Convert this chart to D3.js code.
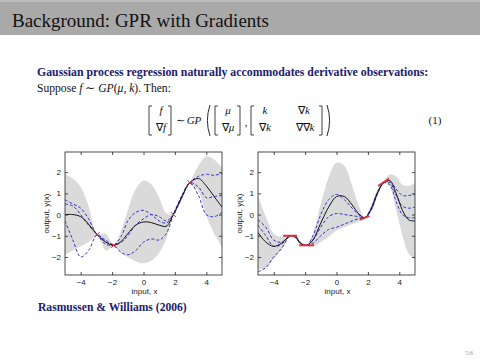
<!DOCTYPE html>
<html><head><meta charset="utf-8">
<script src="https://cdn.jsdelivr.net/npm/d3@7"></script>
<style>html,body{margin:0;padding:0;background:#fff;}svg{display:block;}</style>
</head><body>
<svg id="c" width="480" height="360"></svg>
<script>
// ---------- data ----------
const title = "Background: GPR with Gradients";
const line1 = "Gaussian process regression naturally accommodates derivative observations:";
const citation = "Rasmussen & Williams (2006)";
const pageNo = "5/6";
const xTicks = [-4, -2, 0, 2, 4];
const yTicks = [-2, -1, 0, 1, 2];
const xLabel = "input, x";
const yLabel = "output, y(x)";

// left panel: function observations only
const leftX    = [-5, -4.5, -4, -3.5, -2.95, -2.4, -1.9, -1.4, -1, -0.5, 0, 0.5, 1, 1.45, 1.9, 2.45, 2.95, 3.5, 4, 4.5, 5];
const leftMean = [0.0, 0.0, -0.1, -0.45, -0.95, -1.3, -1.45, -1.25, -0.9, -0.5, -0.35, -0.38, -0.5, -0.55, 0.0, 0.85, 1.5, 1.7, 1.35, 0.85, 0.35];
const leftBand = [1.9, 1.7, 1.4, 0.85, 0.04, 0.4, 0.04, 0.55, 1.1, 1.7, 1.95, 1.8, 1.3, 0.6, 0.04, 0.15, 0.04, 0.6, 1.4, 1.75, 1.85];
const leftS1   = [0.7, 0.5, 0.3, -0.2, -0.95, -1.2, -1.45, -1.0, -0.3, 0.1, 0.2, 0.0, -0.3, -0.4, 0.0, 0.85, 1.5, 1.8, 1.9, 1.85, 1.95];
const leftS2   = [0.5, 0.4, 0.0, -0.5, -0.95, -1.4, -1.45, -1.3, -1.0, -0.5, -0.2, 0.0, -0.1, -0.3, 0.0, 0.8, 1.5, 1.3, 0.8, 0.85, 0.9];
const leftS3   = [-0.3, -1.2, -2.0, -1.7, -0.95, -1.3, -1.45, -1.8, -1.9, -1.7, -1.3, -1.15, -1.2, -0.9, 0.0, 0.9, 1.5, 0.9, 0.0, -0.1, 0.1];
const leftObsX = [-2.95, -1.9, 1.9, 2.95];
const leftObsY = [-0.95, -1.45, 0.0, 1.5];

// right panel: function + derivative observations
const rightX    = [-5, -4.5, -4, -3.5, -2.95, -2.6, -2.3, -1.9, -1.5, -1, -0.5, 0, 0.5, 1, 1.4, 1.8, 2.2, 2.6, 3, 3.4, 3.8, 4.2, 4.6, 5];
const rightMean = [-0.85, -1.3, -1.5, -1.35, -1.0, -1.05, -1.35, -1.45, -1.2, -0.4, 0.35, 0.85, 0.85, 0.45, 0.05, -0.15, 0.25, 1.0, 1.5, 1.6, 1.0, 0.2, -0.25, -0.3];
const rightBand = [1.75, 1.2, 0.6, 0.3, 0.03, 0.1, 0.12, 0.03, 0.3, 0.9, 1.4, 1.6, 1.45, 0.9, 0.4, 0.03, 0.15, 0.15, 0.03, 0.3, 0.8, 1.2, 1.6, 1.8];
const rightS1   = [-0.25, -0.6, -1.2, -1.3, -1.0, -1.05, -1.35, -1.45, -1.0, 0.0, 0.7, 0.95, 0.7, 0.3, 0.0, -0.15, 0.25, 1.0, 1.5, 1.55, 1.2, 0.9, 0.9, 0.95];
const rightS2   = [-0.5, -1.0, -1.5, -1.4, -1.0, -1.1, -1.35, -1.45, -1.2, -0.6, -0.1, 0.05, 0.0, -0.05, -0.1, -0.15, 0.2, 0.95, 1.5, 1.5, 0.9, 0.4, 0.3, 0.35];
const rightS3   = [-2.7, -2.5, -2.0, -1.6, -1.0, -1.05, -1.35, -1.45, -1.35, -1.0, -0.7, -0.6, -0.45, -0.3, -0.2, -0.15, 0.3, 1.05, 1.5, 1.4, 0.6, 0.0, -0.15, -0.15];
const rightObsX     = [-2.95, -1.9, 1.8, 3.0];
const rightObsY     = [-1.0, -1.45, -0.15, 1.52];
const rightObsSlope = [0, 0, 0.3, 0.5];
const rightObsHalf  = [0.45, 0.47, 0.3, 0.35];

// ---------- drawing ----------
const svg = d3.select("#c");
const serif = "'Liberation Serif','Times New Roman',serif";
const sans = "'Liberation Sans',Arial,Helvetica,sans-serif";
const navy = "#20206c";

// title bar
svg.append("rect").attr("x", 0).attr("y", 0).attr("width", 480).attr("height", 35).attr("fill", "#a9a9a9");
svg.append("rect").attr("x", 0).attr("y", 0).attr("width", 480).attr("height", 2).attr("fill", "#bdbdbd");
svg.append("text").attr("x", 12).attr("y", 27).attr("font-family", serif).attr("font-size", 19)
  .attr("fill", "#111").text(title);

// text lines
svg.append("text").attr("x", 37).attr("y", 76).attr("font-family", serif).attr("font-size", 11.8)
  .attr("font-weight", "bold").attr("fill", navy).text(line1);
const t2 = svg.append("text").attr("x", 37).attr("y", 91.5).attr("font-family", serif).attr("font-size", 11.6).attr("fill", "#111");
t2.append("tspan").text("Suppose ");
t2.append("tspan").attr("font-style", "italic").text("f");
t2.append("tspan").text(" \u223C ");
t2.append("tspan").attr("font-style", "italic").text("GP");
t2.append("tspan").text("(");
t2.append("tspan").attr("font-style", "italic").text("\u03BC");
t2.append("tspan").text(", ");
t2.append("tspan").attr("font-style", "italic").text("k");
t2.append("tspan").text("). Then:");

// equation
const eq = svg.append("g").attr("font-family", serif).attr("font-size", 11).attr("fill", "#111");
function bracket(x, dir) {
  const t = 106, b = 135, w = 3 * dir;
  eq.append("path").attr("d", `M${x + w},${t} H${x} V${b} H${x + w}`).attr("fill", "none").attr("stroke", "#111").attr("stroke-width", 0.8);
}
function paren(x, dir) {
  const t = 105, b = 136, w = 4 * dir;
  eq.append("path").attr("d", `M${x + w},${t} Q${x - w * 0.3},${(t + b) / 2} ${x + w},${b}`).attr("fill", "none").attr("stroke", "#111").attr("stroke-width", 0.9);
}
// s: normal prefix (nablas), v: italic variable
function et(x, y, pre, v) {
  const t = eq.append("text").attr("x", x).attr("y", y).attr("text-anchor", "middle");
  if (pre) t.append("tspan").text(pre);
  if (v) t.append("tspan").attr("font-style", "italic").text(v);
}
const N = "\u2207";
bracket(149, 1); et(161, 114, "", "f"); et(161, 131, N, "f"); bracket(171, -1);
et(180, 124, "\u223C", ""); et(194, 124, "", "GP");
paren(206, 1);
bracket(215, 1); et(228, 114, "", "\u03BC"); et(228, 131, N, "\u03BC"); bracket(240, -1);
et(246, 126, ",", "");
bracket(251, 1); et(265, 114, "", "k"); et(265, 131, N, "k");
et(304, 114, N, "k"); et(305, 131, N + N, "k"); bracket(322, -1);
paren(331, -1);
et(435, 124, "(1)", "");

// citation and page no
svg.append("text").attr("x", 38).attr("y", 311).attr("font-family", serif).attr("font-size", 11.6)
  .attr("font-weight", "bold").attr("fill", navy).text(citation);
svg.append("text").attr("x", 473).attr("y", 355).attr("text-anchor", "end").attr("font-family", serif).attr("font-size", 6)
  .attr("fill", "#9a9a9a").text(pageNo);

// panels
function panel(id, L, R, xs, mean, band, samples, drawObs) {
  const T = 152, B = 275;
  const x = d3.scaleLinear().domain([-5, 5]).range([L, R]);
  const y = d3.scaleLinear().domain([-2.85, 2.95]).range([B, T]);
  const g = svg.append("g");
  svg.append("clipPath").attr("id", id).append("rect").attr("x", L).attr("y", T).attr("width", R - L).attr("height", B - T);
  const pg = g.append("g").attr("clip-path", `url(#${id})`);
  const pts = xs.map((v, i) => i);
  const area = d3.area().x(i => x(xs[i])).y0(i => y(mean[i] - band[i])).y1(i => y(mean[i] + band[i])).curve(d3.curveCatmullRom.alpha(0.5));
  pg.append("path").attr("d", area(pts)).attr("fill", "#dadada");
  samples.forEach(s => {
    const ln = d3.line().x(i => x(xs[i])).y(i => y(s[i])).curve(d3.curveCatmullRom.alpha(0.5));
    pg.append("path").attr("d", ln(pts)).attr("fill", "none").attr("stroke", "#3434c8").attr("stroke-width", 1).attr("stroke-dasharray", "3,2");
  });
  const ml = d3.line().x(i => x(xs[i])).y(i => y(mean[i])).curve(d3.curveCatmullRom.alpha(0.5));
  pg.append("path").attr("d", ml(pts)).attr("fill", "none").attr("stroke", "#111").attr("stroke-width", 1);
  drawObs(pg, x, y);
  // frame
  g.append("rect").attr("x", L).attr("y", T).attr("width", R - L).attr("height", B - T).attr("fill", "none").attr("stroke", "#222").attr("stroke-width", 0.8);
  const ax = g.append("g").attr("transform", `translate(0,${B})`).call(d3.axisBottom(x).tickValues(xTicks).tickSize(-3).tickPadding(4).tickFormat(d => d < 0 ? "\u2212" + Math.abs(d) : d));
  const axT = g.append("g").attr("transform", `translate(0,${T})`).call(d3.axisTop(x).tickValues(xTicks).tickSize(-3).tickFormat(""));
  const ay = g.append("g").attr("transform", `translate(${L},0)`).call(d3.axisLeft(y).tickValues(yTicks).tickSize(-3).tickPadding(4).tickFormat(d => d < 0 ? "\u2212" + Math.abs(d) : d));
  const ayR = g.append("g").attr("transform", `translate(${R},0)`).call(d3.axisRight(y).tickValues(yTicks).tickSize(-3).tickFormat(""));
  [ax, axT, ay, ayR].forEach(a => { a.select(".domain").remove(); a.selectAll("line").attr("stroke", "#222").attr("stroke-width", 0.8); a.selectAll("text").attr("font-family", sans).attr("font-size", 8).attr("fill", "#222"); });
  g.append("text").attr("x", (L + R) / 2 + 1).attr("y", 294).attr("text-anchor", "middle").attr("font-family", sans).attr("font-size", 8).attr("fill", "#222").text(xLabel);
  g.append("text").attr("transform", `translate(${L - 16},${(T + B) / 2}) rotate(-90)`).attr("text-anchor", "middle").attr("font-family", sans).attr("font-size", 8).attr("fill", "#222").text(yLabel);
}

panel("clipL", 65, 222, leftX, leftMean, leftBand, [leftS1, leftS2, leftS3], (pg, x, y) => {
  leftObsX.forEach((ox, i) => {
    const cx = x(ox), cy = y(leftObsY[i]), r = 2.5;
    pg.append("path").attr("d", `M${cx - r},${cy - r}L${cx + r},${cy + r}M${cx - r},${cy + r}L${cx + r},${cy - r}`).attr("stroke", "#e0303c").attr("stroke-width", 1);
  });
});

panel("clipR", 258, 415, rightX, rightMean, rightBand, [rightS1, rightS2, rightS3], (pg, x, y) => {
  rightObsX.forEach((ox, i) => {
    const h = rightObsHalf[i], s = rightObsSlope[i], oy = rightObsY[i];
    pg.append("line").attr("x1", x(ox - h)).attr("y1", y(oy - s * h)).attr("x2", x(ox + h)).attr("y2", y(oy + s * h))
      .attr("stroke", "#e0303c").attr("stroke-width", 2);
  });
});
</script>
</body></html>
